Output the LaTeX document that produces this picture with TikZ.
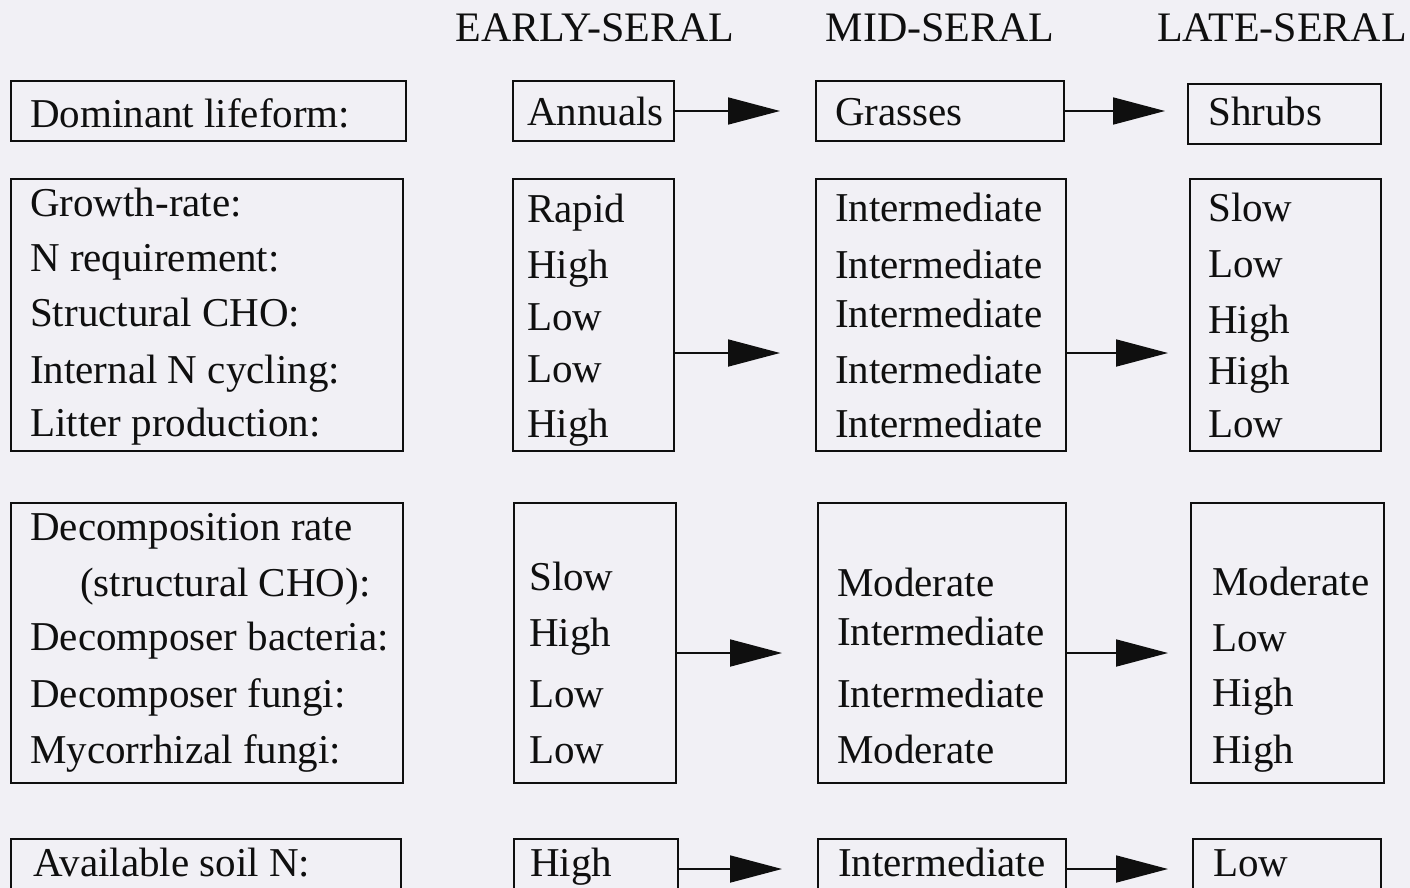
\documentclass[tikz,border=0pt]{standalone}
\usepackage{xcolor}
\usepackage{fontspec}
\setmainfont{Liberation Serif}
\usepackage{tikz}
\usetikzlibrary{positioning, arrows.meta}
\definecolor{paper}{RGB}{241,240,245}
\definecolor{ink}{RGB}{15,15,15}

\tikzset{
  box/.style={draw=ink, line width=2pt, anchor=north west, inner sep=0pt},
  txt/.style={anchor=base west, inner sep=0pt, text=ink, font=\fontsize{41}{48}\selectfont},
  head/.style={anchor=base, inner sep=0pt, text=ink, font=\fontsize{42}{48}\selectfont},
  flow/.style={draw=ink, line width=1.8pt, -{Triangle[length=52pt,width=27pt]}},
}

\begin{document}
\begin{tikzpicture}[x=1pt,y=-1pt]
    \useasboundingbox (0,0) rectangle (1410,888);
    \clip (0,0) rectangle (1410,888);
    \fill[paper] (0,0) rectangle (1410,888);

    % stage headings
    \node[head] (hEarly) at (595,42) {EARLY-SERAL};
    \node[head] (hMid)   at (940,42) {MID-SERAL};
    \node[head] (hLate)  at (1282,42) {LATE-SERAL};

    % lifeform row
    \node[box, minimum width=395pt, minimum height=60pt] (lf) at (10,80) {};
    \node[box, minimum width=161pt, minimum height=60pt] (e1) at (512,80) {};
    \node[box, minimum width=248pt, minimum height=60pt] (m1) at (815,80) {};
    \node[box, minimum width=193pt, minimum height=60pt] (s1) at (1187,83) {};
    \node[txt] (lfT) at (30,128) {Dominant lifeform:};
    \node[txt] (e1T) at (527,126) {Annuals};
    \node[txt] (m1T) at (835,126) {Grasses};
    \node[txt] (s1T) at (1208,126) {Shrubs};

    % plant traits row
    \node[box, minimum width=392pt, minimum height=272pt] (lp) at (10,178) {};
    \node[box, minimum width=161pt, minimum height=272pt] (e2) at (512,178) {};
    \node[box, minimum width=250pt, minimum height=272pt] (m2) at (815,178) {};
    \node[box, minimum width=191pt, minimum height=272pt] (s2) at (1189,178) {};
    \foreach \t/\y [count=\i] in {Growth-rate:/216, N requirement:/271, Structural CHO:/326,
                                 Internal N cycling:/383, Litter production:/436}
      \node[txt] (lp\i) at (30,\y) {\t};
    \foreach \t/\y [count=\i] in {Rapid/222, High/278, Low/330, Low/382, High/437}
      \node[txt] (e2\i) at (527,\y) {\t};
    \foreach \t/\y [count=\i] in {Intermediate/221, Intermediate/278, Intermediate/327,
                                 Intermediate/383, Intermediate/437}
      \node[txt] (m2\i) at (835,\y) {\t};
    \foreach \t/\y [count=\i] in {Slow/221, Low/277, High/333, High/384, Low/437}
      \node[txt] (s2\i) at (1208,\y) {\t};

    % decomposition row
    \node[box, minimum width=392pt, minimum height=280pt] (ld) at (10,502) {};
    \node[box, minimum width=162pt, minimum height=280pt] (e3) at (513,502) {};
    \node[box, minimum width=248pt, minimum height=280pt] (m3) at (817,502) {};
    \node[box, minimum width=193pt, minimum height=280pt] (s3) at (1190,502) {};
    \node[txt] (ld1) at (30,540) {Decomposition rate};
    \node[txt] (ld2) at (80,596) {(structural CHO):};
    \foreach \t/\y [count=\i from 3] in {Decomposer bacteria:/650, Decomposer fungi:/707,
                                        Mycorrhizal fungi:/763}
      \node[txt] (ld\i) at (30,\y) {\t};
    \foreach \t/\y [count=\i] in {Slow/590, High/646, Low/707, Low/763}
      \node[txt] (e3\i) at (529,\y) {\t};
    \foreach \t/\y [count=\i] in {Moderate/596, Intermediate/645, Intermediate/707, Moderate/763}
      \node[txt] (m3\i) at (837,\y) {\t};
    \foreach \t/\y [count=\i] in {Moderate/595, Low/651, High/706, High/763}
      \node[txt] (s3\i) at (1212,\y) {\t};

    % soil row (runs off the page)
    \node[box, minimum width=390pt, minimum height=60pt] (ls) at (10,838) {};
    \node[box, minimum width=164pt, minimum height=60pt] (e4) at (513,838) {};
    \node[box, minimum width=248pt, minimum height=60pt] (m4) at (817,838) {};
    \node[box, minimum width=188pt, minimum height=60pt] (s4) at (1192,838) {};
    \node[txt] (lsT) at (33,876) {Available soil N:};
    \node[txt] (e4T) at (530,876) {High};
    \node[txt] (m4T) at (838,876) {Intermediate};
    \node[txt] (s4T) at (1213,876) {Low};

    % succession arrows
    \draw[flow] (e1.east) -- ([xshift=-35pt]m1.west);
    \draw[flow] (m1.east) -- ([xshift=-22pt,yshift=3pt]s1.west);
    \draw[flow] ([yshift=-38pt]e2.east) -- ([xshift=-35pt,yshift=-38pt]m2.west);
    \draw[flow] ([yshift=-38pt]m2.east) -- ([xshift=-21pt,yshift=-38pt]s2.west);
    \draw[flow] ([yshift=-10pt]e3.east) -- ([xshift=-35pt,yshift=-10pt]m3.west);
    \draw[flow] ([yshift=-10pt]m3.east) -- ([xshift=-22pt,yshift=-10pt]s3.west);
    \draw[flow] (e4.east) -- ([xshift=-35pt]m4.west);
    \draw[flow] (m4.east) -- ([xshift=-24pt]s4.west);
\end{tikzpicture}
\end{document}
